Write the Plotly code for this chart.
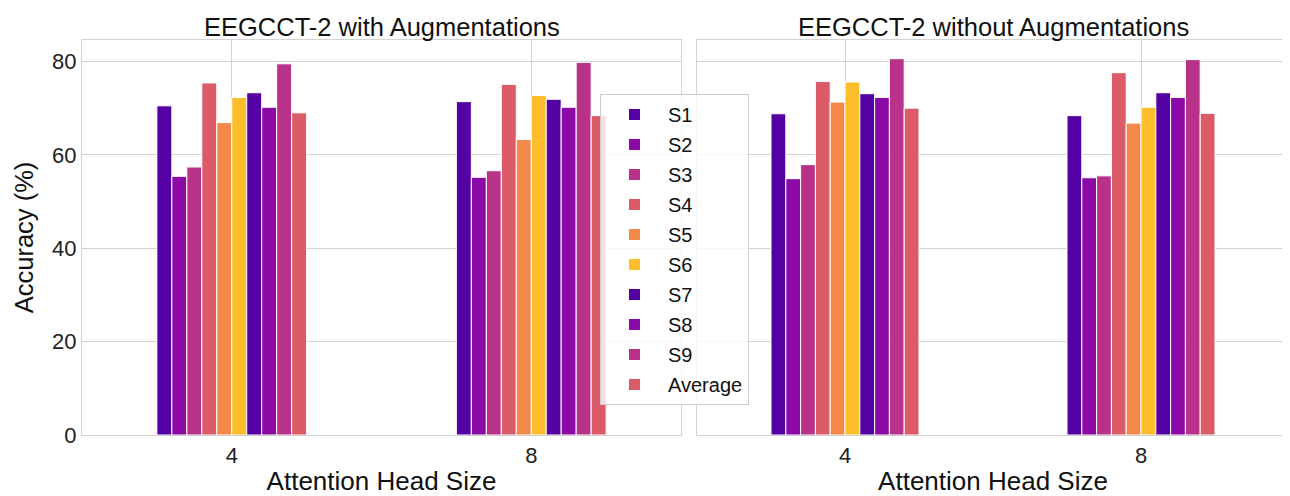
import plotly.graph_objects as go
from plotly.subplots import make_subplots

categories = ["4", "8"]
series_names = ["S1", "S2", "S3", "S4", "S5", "S6", "S7", "S8", "S9", "Average"]
# values per series: [head 4, head 8]
with_aug = {
    "S1": [70.5, 71.4], "S2": [55.4, 55.2], "S3": [57.4, 56.6], "S4": [75.4, 75.1],
    "S5": [66.9, 63.3], "S6": [72.3, 72.7], "S7": [73.3, 71.9], "S8": [70.2, 70.2],
    "S9": [79.5, 79.8], "Average": [69.0, 68.4],
}
without_aug = {
    "S1": [68.8, 68.4], "S2": [54.9, 55.1], "S3": [57.9, 55.5], "S4": [75.7, 77.6],
    "S5": [71.3, 66.8], "S6": [75.6, 70.2], "S7": [73.1, 73.3], "S8": [72.3, 72.3],
    "S9": [80.6, 80.4], "Average": [70.0, 68.9],
}
palette = ["#5402a3", "#8b0aa5", "#b83289", "#db5c68", "#f48849", "#febd2a"]
titles = ["EEGCCT-2 with Augmentations", "EEGCCT-2 without Augmentations"]

FONT = "Liberation Sans, Arial, sans-serif"
GRID = "#d3d3d3"
# page body has an 8px margin, so the figure is laid out 8px smaller
W, H = 1282, 488
DOM1 = [74 / W, 673 / W]
DOM2 = [689 / W, 1281 / W]

fig = make_subplots(rows=1, cols=2, shared_yaxes=True, horizontal_spacing=0.0)

for col, data in enumerate([with_aug, without_aug], start=1):
    for i, name in enumerate(series_names):
        fig.add_trace(
            go.Bar(
                x=categories, y=data[name], name=name,
                marker=dict(color=palette[i % len(palette)], line=dict(color="white", width=1)),
                legendgroup=name, showlegend=(col == 1),
            ),
            row=1, col=col,
        )

fig.update_layout(
    width=W, height=H,
    margin=dict(l=0, r=0, t=32, b=61, autoexpand=False),
    paper_bgcolor="white", plot_bgcolor="white",
    barmode="group", bargap=0.5, bargroupgap=0.0,
    font=dict(family=FONT, size=22, color="#222"),
    legend=dict(
        x=592 / W, y=(427 - 86) / 395, xanchor="left", yanchor="top",
        bgcolor="rgba(255,255,255,0.8)", bordercolor="#cccccc", borderwidth=1,
        font=dict(size=20, color="#111"), tracegroupgap=1, itemwidth=57,
    ),
)

fig.update_xaxes(
    type="category", range=[-0.5, 1.5], showgrid=True, gridcolor=GRID, gridwidth=1.3,
    showline=True, mirror=True, linecolor=GRID, linewidth=1.3, ticks="", automargin=False,
    tickfont=dict(size=22, color="#222"),
    title=dict(text="Attention Head Size", font=dict(size=26, color="#111"), standoff=11),
)
fig.update_xaxes(domain=DOM1, row=1, col=1)
fig.update_xaxes(domain=DOM2, row=1, col=2)

fig.update_yaxes(
    range=[0, 84.6], tickvals=[0, 20, 40, 60, 80], showgrid=True, gridcolor=GRID, gridwidth=1.3,
    showline=True, mirror=True, linecolor=GRID, linewidth=1.3, ticks="", zeroline=False,
    automargin=False, tickfont=dict(size=22, color="#222"),
)
fig.update_yaxes(title=dict(text="Accuracy (%)", font=dict(size=25.5, color="#111"), standoff=11), row=1, col=1)
fig.update_yaxes(showticklabels=False, row=1, col=2)

for dom, t in zip([DOM1, DOM2], titles):
    fig.add_annotation(
        text=t, x=(dom[0] + dom[1]) / 2, y=1.0, xref="paper", yref="paper",
        xanchor="center", yanchor="bottom", yshift=-3, showarrow=False,
        font=dict(size=25.5, color="#111", family=FONT),
    )

fig.write_html("out.html")
